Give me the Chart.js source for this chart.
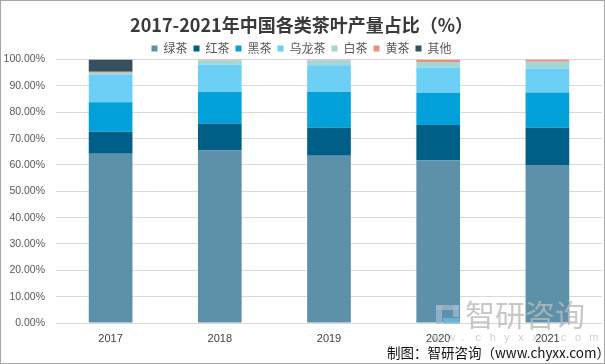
<!DOCTYPE html>
<html>
<head>
<meta charset="utf-8">
<script src="https://cdn.jsdelivr.net/npm/chart.js@4/dist/chart.umd.min.js"></script>
<style>
  html, body { margin: 0; padding: 0; background: #fff; }
  #wrap { position: relative; width: 603px; height: 362px; border: 1px solid #A6A6A6; background: #fff; overflow: hidden; }
  canvas { display: block; }
  #source { position: absolute; left: 386px; top: 342px; font: 13.5px "Noto Sans CJK SC", "Microsoft YaHei", sans-serif; color: #111; white-space: nowrap; line-height: 18px; }
</style>
</head>
<body>
<div id="wrap">
  <canvas id="c" width="603" height="362"></canvas>
  <div id="source">制图：智研咨询（www.chyxx.com）</div>
</div>
<script>
const years = ['2017', '2018', '2019', '2020', '2021'];
const seriesNames = ['绿茶', '红茶', '黑茶', '乌龙茶', '白茶', '黄茶', '其他'];
const greenTea  = [64.3, 65.5, 63.5, 61.8, 60.0];
const blackTea  = [8.3, 10.2, 10.6, 13.4, 14.1];
const darkTea   = [11.2, 12.1, 13.7, 12.2, 13.4];
const oolongTea = [10.5, 10.3, 10.1, 9.6, 9.1];
const whiteTea  = [0.7, 1.6, 1.8, 2.1, 2.6];
const yellowTea = [0.4, 0.3, 0.3, 0.9, 0.8];
const otherTea  = [4.6, 0, 0, 0, 0];
const yTicks = [0, 10, 20, 30, 40, 50, 60, 70, 80, 90, 100];
const titleText = '2017-2021年中国各类茶叶产量占比（%）';

const colors = ['#5D91AA', '#005F87', '#03A1D9', '#6CCFF6', '#A1D8D6', '#E9917B', '#37505F'];
const values = [greenTea, blackTea, darkTea, oolongTea, whiteTea, yellowTea, otherTea];

const legendTrim = {
  id: 'legendTrim',
  afterInit(chart) {
    const lg = chart.legend;
    if (lg && !lg._trimmed) {
      const orig = lg.fit.bind(lg);
      lg.fit = function () { orig(); this.height -= 5; };
      lg._trimmed = true;
    }
  }
};

const watermark = {
  id: 'watermark',
  afterDatasetsDraw(chart) {
    const ctx = chart.ctx;
    ctx.save();
    // logo
    ctx.fillStyle = 'rgba(160,185,205,0.75)';
    ctx.fillRect(435, 304, 6, 19);
    ctx.fillRect(435, 304, 23, 5);
    ctx.fillRect(452, 304, 6, 12);
    ctx.fillStyle = 'rgba(120,190,225,0.7)';
    ctx.fillRect(442, 317, 17, 6);
    ctx.fillStyle = 'rgba(185,185,185,0.8)';
    ctx.font = '30px "Noto Sans CJK SC", sans-serif';
    ctx.textBaseline = 'middle';
    ctx.textAlign = 'left';
    ctx.fillText('智研咨询', 464, 314);
    ctx.fillStyle = 'rgba(200,200,200,0.85)';
    ctx.font = '11px "Liberation Sans", sans-serif';
    const s = 'w w . c h y x x . c o m';
    let x = 432;
    for (const ch of s.split(' ')) { ctx.fillText(ch, x, 337); x += 14.2; }
    ctx.restore();
  }
};

new Chart(document.getElementById('c'), {
  type: 'bar',
  data: {
    labels: years,
    datasets: seriesNames.map((n, i) => ({
      label: n,
      data: values[i],
      backgroundColor: colors[i],
      borderWidth: 0,
      barPercentage: 0.4,
      categoryPercentage: 1.0
    }))
  },
  options: {
    responsive: false,
    animation: false,
    devicePixelRatio: 1,
    layout: { padding: { left: 0, right: 2, top: 0, bottom: 0 } },
    plugins: {
      title: {
        display: true,
        text: titleText,
        color: '#3A3A3A',
        font: { family: '"Noto Sans CJK SC", sans-serif', size: 18, weight: 'bold' },
        padding: { top: 13, bottom: 1 }
      },
      legend: {
        display: true,
        position: 'top',
        labels: {
          boxWidth: 6,
          boxHeight: 6,
          padding: 6,
          color: '#595959',
          font: { family: '"Noto Sans CJK SC", sans-serif', size: 12 }
        }
      },
      tooltip: { enabled: false }
    },
    scales: {
      x: {
        stacked: true,
        grid: { display: false },
        border: { display: false },
        ticks: { color: '#404040', font: { family: '"Liberation Sans", Arial, sans-serif', size: 11 }, padding: 1 },
        afterFit(scale) { scale.height = 40; }
      },
      y: {
        stacked: true,
        min: 0,
        max: 100,
        afterBuildTicks(scale) { scale.ticks = yTicks.map(v => ({ value: v })); },
        grid: { color: '#D9D9D9', drawTicks: false, lineWidth: 1 },
        border: { display: false },
        ticks: {
          color: '#595959',
          font: { family: '"Liberation Sans", Arial, sans-serif', size: 10.5 },
          padding: 11,
          callback: v => v.toFixed(2) + '%'
        },
        afterFit(scale) { scale.width = 55; }
      }
    }
  },
  plugins: [legendTrim, watermark]
});
</script>
</body>
</html>
